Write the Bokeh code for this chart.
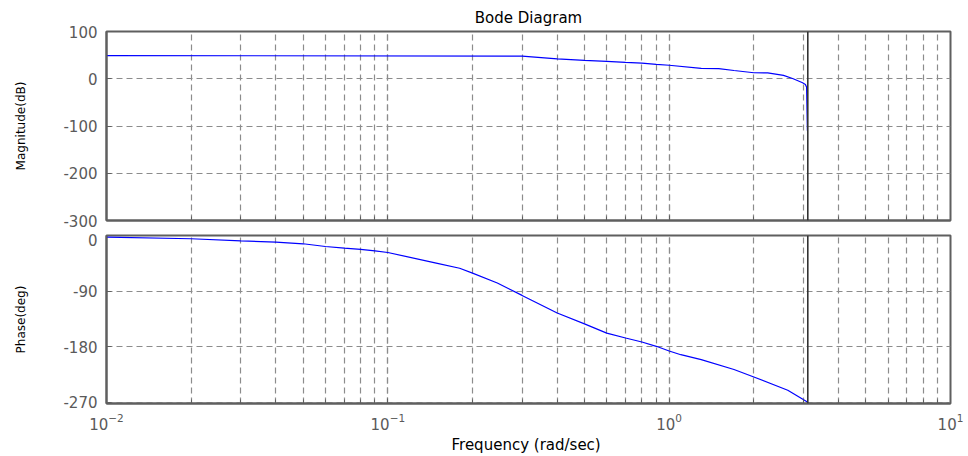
from bokeh.plotting import figure
from bokeh.layouts import column
from bokeh.models import Range1d, LogTicker, FixedTicker, Span
from bokeh.embed import file_html
from bokeh.resources import INLINE

# ---- data ----
freq_mag = [0.01, 0.3, 0.4, 0.5, 0.6, 0.7, 0.8, 0.9, 1.0, 1.3, 1.5, 1.7, 2.0,
            2.24, 2.55, 2.76, 2.98, 3.05, 3.08, 3.1]
mag_db = [49, 48, 42, 38.7, 36.6, 34.5, 33, 30.5, 28.6, 21.8, 21.4, 17.5, 12.7,
          12.3, 7, 0, -8.5, -12, -18, -110]

freq_phase = [0.01, 0.02, 0.03, 0.04, 0.05, 0.06, 0.07, 0.08, 0.09, 0.1, 0.15,
              0.18, 0.2, 0.245, 0.3, 0.4, 0.5, 0.6, 0.7, 0.8, 0.9, 1.0, 1.1,
              1.3, 1.7, 2.0, 2.64, 3.1]
phase_deg = [-2.5, -5.3, -8.6, -10.7, -13.4, -17.8, -20.4, -22.6, -24.8, -27.5,
             -45, -53, -61, -77, -97, -125.5, -143, -158, -166, -172.4, -179.4,
             -187, -193, -201, -217, -229, -250.6, -269.5]

mag_ticks = [100, 0, -100, -200, -300]
phase_ticks = [0, -90, -180, -270]
marker_freq = 3.11

title_text = "Bode Diagram"
xlabel = "Frequency  (rad/sec)"
ylabel_mag = "Magnitude(dB)"
ylabel_phase = "Phase(deg)"

FONT = "DejaVu Sans"
FRAME = "#5f5f5f"
GRID = "#8c8c8c"
TICKLBL = "#5a5a5a"

x_range = Range1d(0.01, 10)


def style(p, yticks, ylabel):
    p.outline_line_color = FRAME
    p.outline_line_width = 2
    for ax in p.xaxis + p.yaxis:
        ax.axis_line_color = FRAME
        ax.axis_line_width = 2
        ax.major_tick_line_color = FRAME
        ax.minor_tick_line_color = FRAME
        ax.major_tick_in = 5
        ax.major_tick_out = 0
        ax.minor_tick_in = 4
        ax.minor_tick_out = 0
        ax.major_label_text_font = FONT
        ax.major_label_text_font_size = "15px"
        ax.major_label_text_color = TICKLBL
    p.yaxis.ticker = FixedTicker(ticks=yticks)
    p.yaxis.major_label_overrides = {t: str(t) for t in yticks}
    p.yaxis.minor_tick_line_color = None
    p.yaxis.major_label_standoff = 9
    p.yaxis.axis_label = ylabel
    p.yaxis.axis_label_text_font = FONT
    p.yaxis.axis_label_text_font_size = "12px"
    p.yaxis.axis_label_text_font_style = "normal"
    p.yaxis.axis_label_text_color = "#000000"
    p.yaxis.axis_label_standoff = 32
    p.xaxis.ticker = LogTicker(num_minor_ticks=10, mantissas=[1])
    p.xgrid.ticker = LogTicker(num_minor_ticks=10, mantissas=[1])
    p.xgrid.grid_line_color = GRID
    p.xgrid.grid_line_dash = "6 4"
    p.xgrid.grid_line_width = 1.2
    p.xgrid.minor_grid_line_color = GRID
    p.xgrid.minor_grid_line_dash = "6 4"
    p.xgrid.minor_grid_line_width = 1.2
    p.ygrid.grid_line_color = GRID
    p.ygrid.grid_line_dash = "6 4"
    p.ygrid.grid_line_width = 1.2
    p.ygrid.ticker = FixedTicker(ticks=yticks)


p1 = figure(width=968, height=233, x_axis_type="log", x_range=x_range,
            y_range=Range1d(-300, 100), output_backend="svg", toolbar_location=None,
            min_border_left=106, min_border_right=18, min_border_top=31,
            min_border_bottom=13, title=title_text)
p1.title.align = "center"
p1.title.text_font = FONT
p1.title.text_font_size = "15px"
p1.title.text_font_style = "normal"
p1.title.text_color = "#000000"
p1.title.offset = 0
style(p1, mag_ticks, ylabel_mag)
p1.xaxis.major_label_text_font_size = "1px"
p1.xaxis.major_label_text_color = None
p1.xaxis.major_label_standoff = 0
p1.line(freq_mag, mag_db, line_color="#0000ff", line_width=1.2)
p1.add_layout(Span(location=marker_freq, dimension="height", line_color="#333333",
                   line_width=1.6))

p2 = figure(width=968, height=223, x_axis_type="log", x_range=x_range,
            y_range=Range1d(-272, 0), output_backend="svg", toolbar_location=None,
            min_border_left=106, min_border_right=18, min_border_top=2,
            min_border_bottom=52)
style(p2, phase_ticks, ylabel_phase)
p2.xaxis.major_label_standoff = 9
p2.xaxis.axis_label = xlabel
p2.xaxis.axis_label_text_font = FONT
p2.xaxis.axis_label_text_font_size = "15px"
p2.xaxis.axis_label_text_font_style = "normal"
p2.xaxis.axis_label_text_color = "#000000"
p2.xaxis.axis_label_standoff = 3
p2.line(freq_phase, phase_deg, line_color="#0000ff", line_width=1.2)
p2.add_layout(Span(location=marker_freq, dimension="height", line_color="#333333",
                   line_width=1.6))

layout = column(p1, p2, spacing=0)
open("out.html", "w").write(file_html(layout, INLINE))
